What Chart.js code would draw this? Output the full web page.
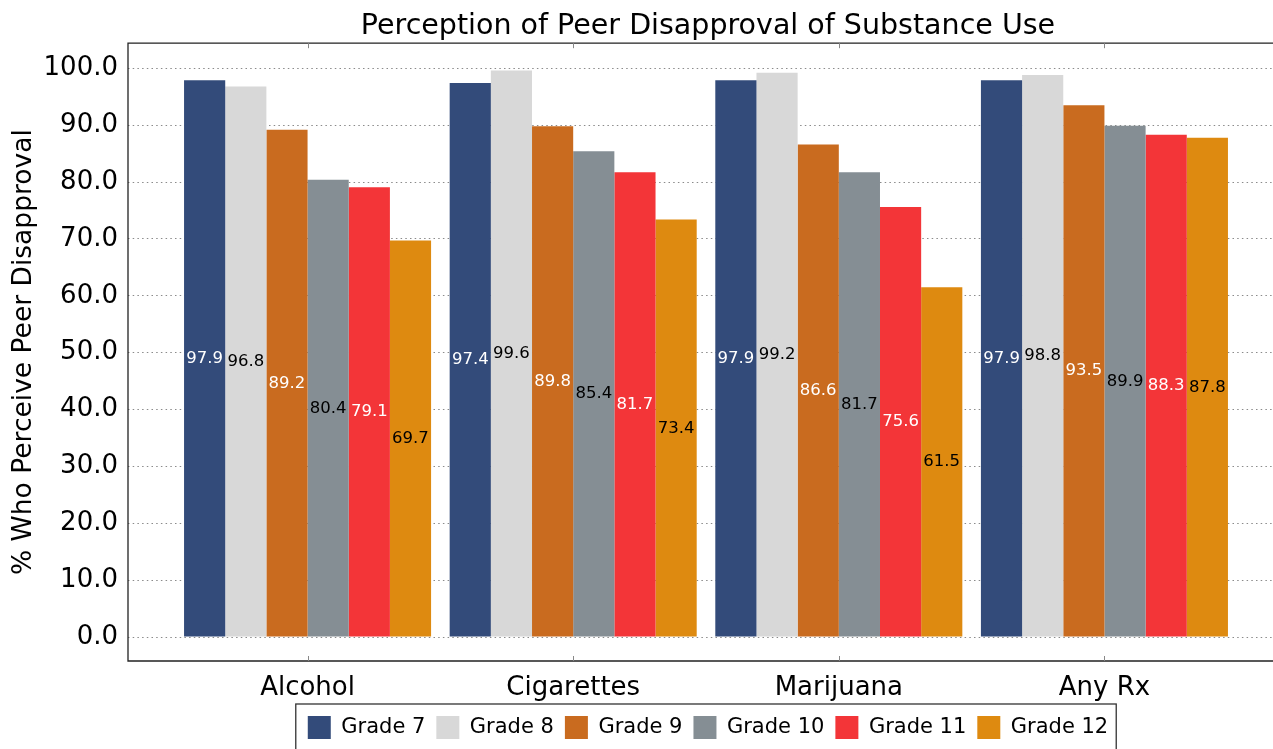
<!DOCTYPE html>
<html>
<head>
<meta charset="utf-8">
<script src="https://cdn.jsdelivr.net/npm/chart.js@4"></script>
<style>
  html, body { margin: 0; padding: 0; overflow: hidden; background: #fff; }
  #wrap { width: 1273px; height: 749px; overflow: hidden; }
  #myChart { display: block; }
</style>
</head>
<body>
<div id="wrap"><canvas id="myChart" width="1416" height="749"></canvas></div>
<script>
// data
const substances = ['Alcohol', 'Cigarettes', 'Marijuana', 'Any Rx'];
const grade7  = [97.9, 97.4, 97.9, 97.9];
const grade8  = [96.8, 99.6, 99.2, 98.8];
const grade9  = [89.2, 89.8, 86.6, 93.5];
const grade10 = [80.4, 85.4, 81.7, 89.9];
const grade11 = [79.1, 81.7, 75.6, 88.3];
const grade12 = [69.7, 73.4, 61.5, 87.8];
const yTicks = [0, 10, 20, 30, 40, 50, 60, 70, 80, 90, 100];

const series = [
  { label: 'Grade 7',  values: grade7,  color: '#334b7a', text: '#ffffff' },
  { label: 'Grade 8',  values: grade8,  color: '#d8d8d8', text: '#000000' },
  { label: 'Grade 9',  values: grade9,  color: '#c96b1f', text: '#ffffff' },
  { label: 'Grade 10', values: grade10, color: '#858e94', text: '#000000' },
  { label: 'Grade 11', values: grade11, color: '#f33538', text: '#ffffff' },
  { label: 'Grade 12', values: grade12, color: '#de8a10', text: '#000000' }
];

const FONT = "'DejaVu Sans', sans-serif";

// frame around the plot with small inward ticks
const framePlugin = {
  id: 'frame',
  afterDraw(chart) {
    const {ctx, chartArea: a, scales: {x}} = chart;
    ctx.save();
    ctx.strokeStyle = '#222';
    ctx.lineWidth = 1.3;
    ctx.beginPath();
    ctx.moveTo(a.right, a.top);
    ctx.lineTo(a.left, a.top);
    ctx.lineTo(a.left, a.bottom);
    ctx.lineTo(a.right, a.bottom);
    ctx.stroke();
    ctx.strokeStyle = '#888';
    ctx.lineWidth = 1;
    substances.forEach((s, i) => {
      const px = Math.round(x.getPixelForValue(i)) + 0.5;
      ctx.beginPath();
      ctx.moveTo(px, a.top); ctx.lineTo(px, a.top + 5);
      ctx.moveTo(px, a.bottom); ctx.lineTo(px, a.bottom - 5);
      ctx.stroke();
    });
    // box round the legend
    const lg = chart.legend;
    if (lg && lg.legendHitBoxes.length) {
      const hb = lg.legendHitBoxes;
      const l = hb[0].left - 12;
      const r = hb[hb.length - 1].left + hb[hb.length - 1].width + 8;
      ctx.strokeStyle = '#333';
      ctx.lineWidth = 1.3;
      ctx.strokeRect(l, hb[0].top - 12, r - l, hb[0].height + 36);
    }
    ctx.restore();
  }
};

// value labels at mid height of each bar
const labelPlugin = {
  id: 'midLabels',
  afterDatasetsDraw(chart) {
    const ctx = chart.ctx;
    const y = chart.scales.y;
    ctx.save();
    ctx.font = '16.5px ' + FONT;
    ctx.textAlign = 'center';
    ctx.textBaseline = 'middle';
    series.forEach((s, di) => {
      const meta = chart.getDatasetMeta(di);
      meta.data.forEach((bar, i) => {
        const v = s.values[i];
        ctx.fillStyle = s.text;
        ctx.fillText(v.toFixed(1), bar.x, y.getPixelForValue(v / 2));
      });
    });
    ctx.restore();
  }
};

const config = {
  type: 'bar',
  data: {
    datasets: series.map(s => ({
      label: s.label,
      data: s.values.map((v, i) => ({ x: i, y: v })),
      backgroundColor: s.color,
      borderColor: s.color,
      borderWidth: 0,
      categoryPercentage: 0.93,
      barPercentage: 1.0
    }))
  },
  options: {
    responsive: false,
    animation: false,
    layout: { padding: 0 },
    plugins: {
      title: {
        display: true,
        text: 'Perception of Peer Disapproval of Substance Use',
        color: '#000',
        font: { family: FONT, size: 28.5, weight: 'normal' },
        padding: { top: 9, bottom: 0 }
      },
      legend: {
        display: true,
        position: 'bottom',
        labels: {
          color: '#000',
          font: { family: FONT, size: 21 },
          boxWidth: 23,
          boxHeight: 23,
          padding: 11
        }
      },
      tooltip: { enabled: false }
    },
    scales: {
      x: {
        type: 'linear',
        min: -0.676,
        max: 3.676,
        offset: false,
        grid: { display: false, drawTicks: false },
        border: { display: false },
        afterBuildTicks: scale => { scale.ticks = substances.map((s, i) => ({ value: i })); },
        afterFit: scale => { scale.height = 44; },
        ticks: {
          color: '#000',
          font: { family: FONT, size: 26 },
          padding: 12,
          maxRotation: 0,
          autoSkip: false,
          callback: v => substances[v]
        }
      },
      y: {
        min: -4.2,
        max: 104.4,
        grid: { color: '#8a8a8a', lineWidth: 1, drawTicks: false },
        border: { display: false, dash: [1.5, 3.2] },
        afterBuildTicks: scale => { scale.ticks = yTicks.map(v => ({ value: v })); },
        afterFit: scale => { scale.width = 128; },
        ticks: {
          color: '#000',
          font: { family: FONT, size: 26 },
          padding: 10,
          callback: v => v.toFixed(1)
        },
        title: {
          display: true,
          text: '% Who Perceive Peer Disapproval',
          color: '#000',
          font: { family: FONT, size: 26.5 },
          padding: { top: 8, bottom: 0 }
        }
      },
      // empty right-hand axis, keeps the plot symmetric on the wide canvas
      yPad: {
        position: 'right',
        min: 0,
        max: 1,
        grid: { display: false, drawTicks: false },
        border: { display: false },
        ticks: { display: false },
        afterFit: scale => { scale.width = 132; }
      }
    }
  },
  plugins: [framePlugin, labelPlugin]
};

const ctx = document.getElementById('myChart').getContext('2d');
const myChart = new Chart(ctx, config);
</script>
</body>
</html>
